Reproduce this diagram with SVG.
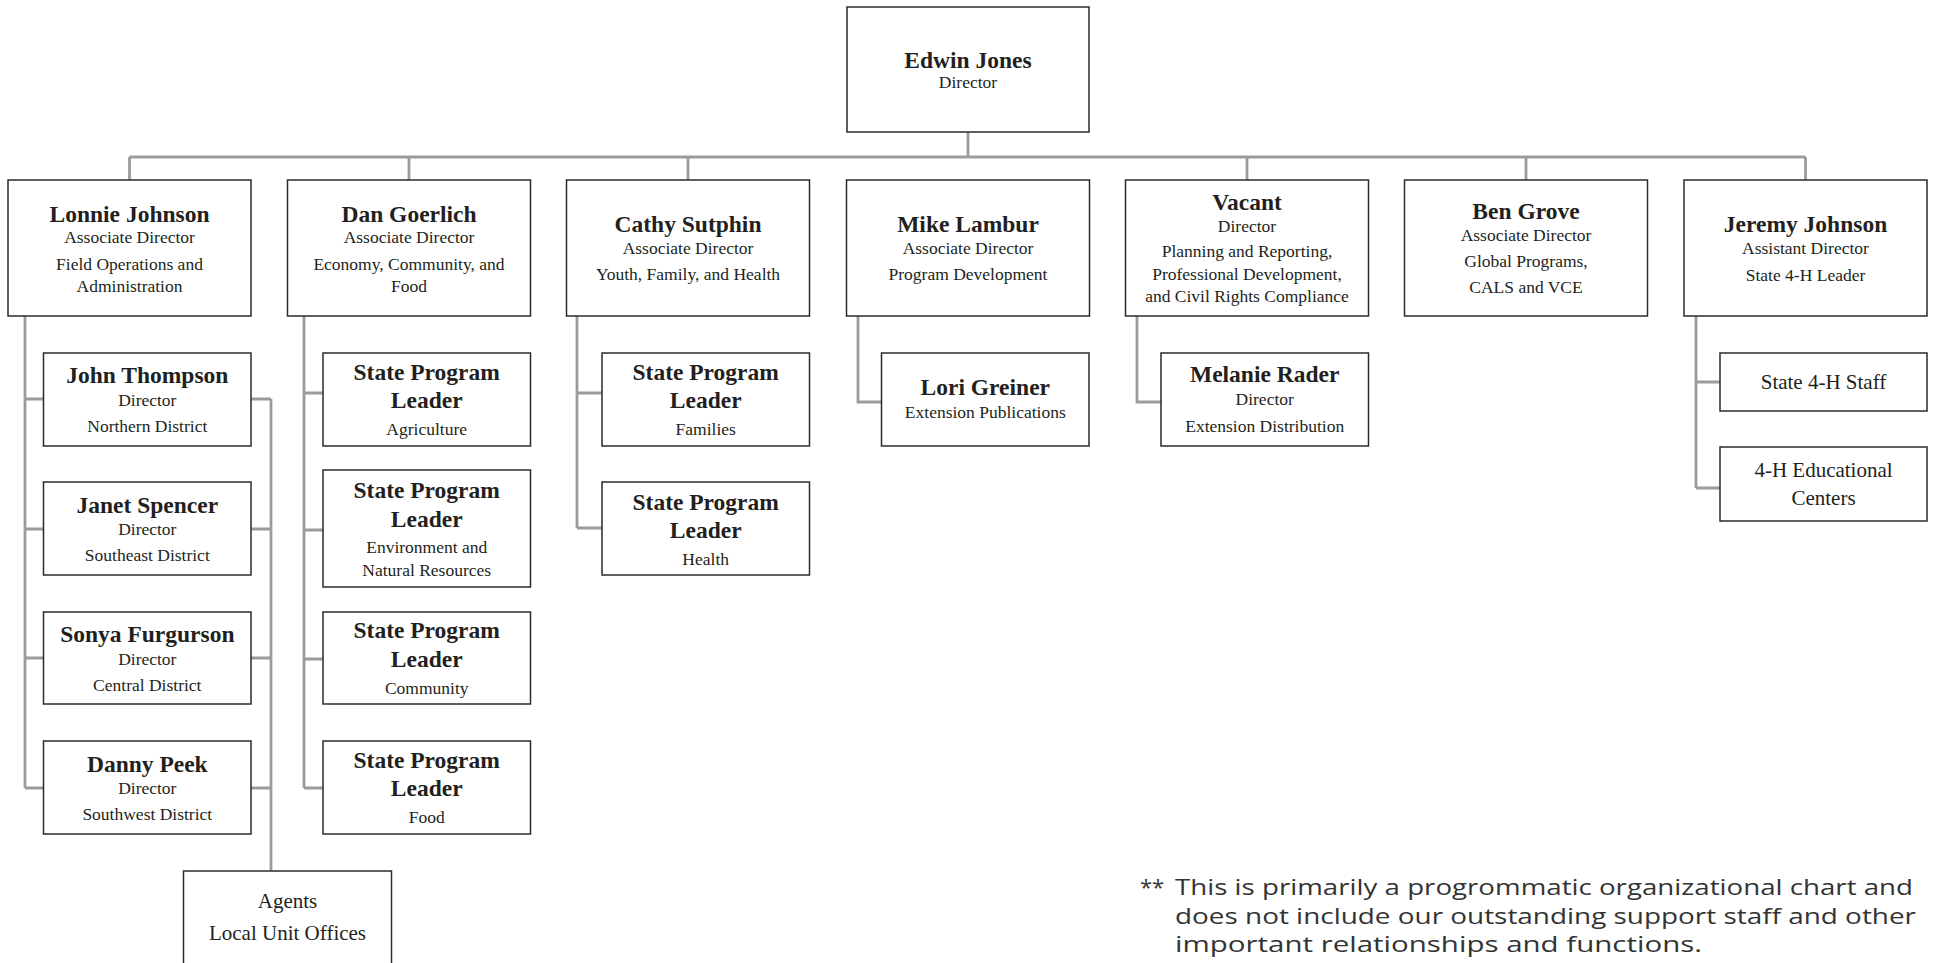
<svg xmlns="http://www.w3.org/2000/svg" width="1937" height="963" viewBox="0 0 1937 963">
<style>
.box{fill:#fff;stroke:#2b2b2b;stroke-width:1.5}
.con{fill:none;stroke:#9b9b9b;stroke-width:2.8}
text{font-family:"Liberation Serif","Times New Roman",serif;fill:#231f20;text-anchor:middle}
.nm{font-size:23.5px;font-weight:bold}
.sb{font-size:17.5px}
.lg{font-size:21px}
.fn{font-family:"Open Sans","Liberation Sans",Arial,sans-serif;font-size:22px;fill:#333;text-anchor:start}
</style>
<g id="connectors">
<path class="con" d="M968 132V157M129.5 157H1805.5M129.5 157V180M409 157V180M688 157V180M1526 157V180M1247 157V180M1805.5 157V180"/>
<path class="con" d="M25 316V788M25 399H43.5M25 529H43.5M25 658H43.5M25 788H43.5"/>
<path class="con" d="M251 399H271M251 529H271M251 658H271M251 788H271M271 399V871"/>
<path class="con" d="M304 316V788M304 393H323M304 530H323M304 659H323M304 788H323"/>
<path class="con" d="M577 316V528M577 393H602M577 528H602"/>
<path class="con" d="M858 316V402H881.5"/>
<path class="con" d="M1137 316V402H1161"/>
<path class="con" d="M1696 316V488M1696 382H1720M1696 488H1720"/>
</g>
<g id="edwin"><rect class="box" x="847" y="7" width="242" height="125"/><text class="nm" x="968" y="68">Edwin Jones</text><text class="sb" x="968" y="88">Director</text></g>
<g id="lonnie"><rect class="box" x="8" y="180" width="243" height="136"/><text class="nm" x="129.5" y="222">Lonnie Johnson</text><text class="sb" x="129.5" y="243">Associate Director</text><text class="sb" x="129.5" y="270">Field Operations and</text><text class="sb" x="129.5" y="292">Administration</text></g>
<g id="dan"><rect class="box" x="287.5" y="180" width="243" height="136"/><text class="nm" x="409" y="222">Dan Goerlich</text><text class="sb" x="409" y="243">Associate Director</text><text class="sb" x="409" y="270">Economy, Community, and</text><text class="sb" x="409" y="292">Food</text></g>
<g id="cathy"><rect class="box" x="566.5" y="180" width="243" height="136"/><text class="nm" x="688" y="232">Cathy Sutphin</text><text class="sb" x="688" y="254">Associate Director</text><text class="sb" x="688" y="280">Youth, Family, and Health</text></g>
<g id="mike"><rect class="box" x="846.5" y="180" width="243" height="136"/><text class="nm" x="968" y="232">Mike Lambur</text><text class="sb" x="968" y="254">Associate Director</text><text class="sb" x="968" y="280">Program Development</text></g>
<g id="vacant"><rect class="box" x="1125.5" y="180" width="243" height="136"/><text class="nm" x="1247" y="210">Vacant</text><text class="sb" x="1247" y="232">Director</text><text class="sb" x="1247" y="257">Planning and Reporting,</text><text class="sb" x="1247" y="280">Professional Development,</text><text class="sb" x="1247" y="302">and Civil Rights Compliance</text></g>
<g id="ben"><rect class="box" x="1404.5" y="180" width="243" height="136"/><text class="nm" x="1526" y="219">Ben Grove</text><text class="sb" x="1526" y="241">Associate Director</text><text class="sb" x="1526" y="267">Global Programs,</text><text class="sb" x="1526" y="293">CALS and VCE</text></g>
<g id="jeremy"><rect class="box" x="1684" y="180" width="243" height="136"/><text class="nm" x="1805.5" y="232">Jeremy Johnson</text><text class="sb" x="1805.5" y="254">Assistant Director</text><text class="sb" x="1805.5" y="281">State 4-H Leader</text></g>
<g id="john"><rect class="box" x="43.5" y="353" width="207.5" height="93"/><text class="nm" x="147.3" y="383">John Thompson</text><text class="sb" x="147.3" y="406">Director</text><text class="sb" x="147.3" y="432">Northern District</text></g>
<g id="janet"><rect class="box" x="43.5" y="482" width="207.5" height="93"/><text class="nm" x="147.3" y="513">Janet Spencer</text><text class="sb" x="147.3" y="535">Director</text><text class="sb" x="147.3" y="561">Southeast District</text></g>
<g id="sonya"><rect class="box" x="43.5" y="612" width="207.5" height="92"/><text class="nm" x="147.3" y="642">Sonya Furgurson</text><text class="sb" x="147.3" y="665">Director</text><text class="sb" x="147.3" y="691">Central District</text></g>
<g id="danny"><rect class="box" x="43.5" y="741" width="207.5" height="93"/><text class="nm" x="147.3" y="772">Danny Peek</text><text class="sb" x="147.3" y="794">Director</text><text class="sb" x="147.3" y="820">Southwest District</text></g>
<g id="agents"><rect class="box" x="183.5" y="871" width="208" height="100"/><text class="lg" x="287.5" y="908">Agents</text><text class="lg" x="287.5" y="940">Local Unit Offices</text></g>
<g id="spl-agriculture"><rect class="box" x="323" y="353" width="207.5" height="93"/><text class="nm" x="426.7" y="380">State Program</text><text class="nm" x="426.7" y="408">Leader</text><text class="sb" x="426.7" y="435">Agriculture</text></g>
<g id="spl-environment"><rect class="box" x="323" y="470" width="207.5" height="117"/><text class="nm" x="426.7" y="498">State Program</text><text class="nm" x="426.7" y="527">Leader</text><text class="sb" x="426.7" y="553">Environment and</text><text class="sb" x="426.7" y="576">Natural Resources</text></g>
<g id="spl-community"><rect class="box" x="323" y="612" width="207.5" height="92"/><text class="nm" x="426.7" y="638">State Program</text><text class="nm" x="426.7" y="667">Leader</text><text class="sb" x="426.7" y="694">Community</text></g>
<g id="spl-food"><rect class="box" x="323" y="741" width="207.5" height="93"/><text class="nm" x="426.7" y="768">State Program</text><text class="nm" x="426.7" y="796">Leader</text><text class="sb" x="426.7" y="823">Food</text></g>
<g id="spl-families"><rect class="box" x="602" y="353" width="207.5" height="93"/><text class="nm" x="705.7" y="380">State Program</text><text class="nm" x="705.7" y="408">Leader</text><text class="sb" x="705.7" y="435">Families</text></g>
<g id="spl-health"><rect class="box" x="602" y="482" width="207.5" height="93"/><text class="nm" x="705.7" y="510">State Program</text><text class="nm" x="705.7" y="538">Leader</text><text class="sb" x="705.7" y="565">Health</text></g>
<g id="lori"><rect class="box" x="881.5" y="353" width="207.5" height="93"/><text class="nm" x="985.3" y="395">Lori Greiner</text><text class="sb" x="985.3" y="418">Extension Publications</text></g>
<g id="melanie"><rect class="box" x="1161" y="353" width="207.5" height="93"/><text class="nm" x="1264.7" y="382">Melanie Rader</text><text class="sb" x="1264.7" y="405">Director</text><text class="sb" x="1264.7" y="432">Extension Distribution</text></g>
<g id="state-4h-staff"><rect class="box" x="1720" y="353" width="207" height="58"/><text class="lg" x="1823.5" y="389">State 4-H Staff</text></g>
<g id="educational-centers"><rect class="box" x="1720" y="447" width="207" height="74"/><text class="lg" x="1823.5" y="477">4-H Educational</text><text class="lg" x="1823.5" y="505">Centers</text></g>
<text class="fn"><tspan x="1140" y="895">**</tspan><tspan x="1175" y="895" textLength="738" lengthAdjust="spacingAndGlyphs">This is primarily a progrommatic organizational chart and</tspan><tspan x="1175" y="924" textLength="741" lengthAdjust="spacingAndGlyphs">does not include our outstanding support staff and other</tspan><tspan x="1175" y="952" textLength="527" lengthAdjust="spacingAndGlyphs">important relationships and functions.</tspan></text>
</svg>
